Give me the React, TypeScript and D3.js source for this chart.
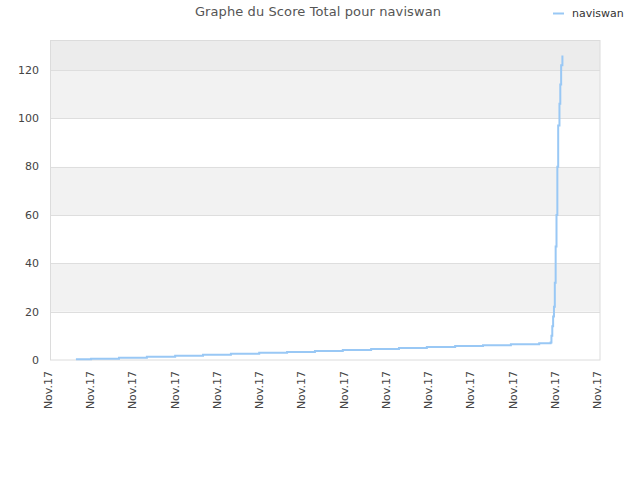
import React, { useRef, useEffect } from 'react';
import * as d3 from 'd3';

// x positions (arbitrary time units, 10 per tick) and total score
const times = [
  5.9, 9.5, 16.1, 22.7, 29.4, 36.0, 42.6, 49.3, 55.9, 62.5, 69.1, 75.8, 82.4, 89.0, 95.7,
  102.3, 108.9, 115.6, 118.3, 118.5, 118.7, 118.9, 119.1, 119.3, 119.5, 119.7, 119.9,
  120.1, 120.4, 120.6, 120.8, 121.1,
];
const scores = [
  0.3, 0.55, 0.95, 1.35, 1.75, 2.15, 2.55, 2.95, 3.35, 3.75, 4.15, 4.55, 4.95, 5.35, 5.75,
  6.15, 6.55, 6.95, 7.2, 10, 14, 18, 22, 32, 47, 60, 80, 97, 106, 114, 122, 126,
];
const xTickLabels = [
  'Nov.17', 'Nov.17', 'Nov.17', 'Nov.17', 'Nov.17', 'Nov.17', 'Nov.17',
  'Nov.17', 'Nov.17', 'Nov.17', 'Nov.17', 'Nov.17', 'Nov.17', 'Nov.17',
];
const yTicks = [0, 20, 40, 60, 80, 100, 120];
const seriesName = 'naviswan';
const title = 'Graphe du Score Total pour naviswan';

const width = 640;
const height = 480;

const App: React.FC = () => {
  const svgRef = useRef<SVGSVGElement>(null);

  useEffect(() => {
    if (!svgRef.current) return;
    const svg = d3.select(svgRef.current);
    svg.selectAll('*').remove();

    const margin = { top: 40, right: 40, bottom: 120, left: 51 };
    const innerWidth = width - margin.left - margin.right;
    const innerHeight = height - margin.top - margin.bottom;
    const font = 'DejaVu Sans, Verdana, sans-serif';

    const x = d3
      .scaleLinear()
      .domain([0, (xTickLabels.length - 1) * 10])
      .range([0, innerWidth]);
    const y = d3.scaleLinear().domain([0, 132.4]).range([innerHeight, 0]);

    const g = svg
      .append('g')
      .attr('transform', `translate(${margin.left},${margin.top})`);

    // Alternating background bands
    const bands = [...yTicks, 132.4];
    for (let i = 0; i < bands.length - 1; i++) {
      let fill = i % 2 === 1 ? '#f2f2f2' : '#ffffff';
      if (i === bands.length - 2) fill = '#ececec';
      g.append('rect')
        .attr('x', 0)
        .attr('y', y(bands[i + 1]))
        .attr('width', innerWidth)
        .attr('height', y(bands[i]) - y(bands[i + 1]))
        .attr('fill', fill);
    }

    // Grid lines
    g.selectAll('.grid')
      .data(yTicks.slice(1))
      .enter()
      .append('line')
      .attr('x1', 0)
      .attr('x2', innerWidth)
      .attr('y1', (d) => Math.round(y(d)) + 0.5)
      .attr('y2', (d) => Math.round(y(d)) + 0.5)
      .attr('stroke', '#dedede')
      .attr('stroke-width', 1);

    // Frame
    g.append('rect')
      .attr('x', -0.5)
      .attr('y', 0.5)
      .attr('width', innerWidth + 0.5)
      .attr('height', innerHeight - 0.5)
      .attr('fill', 'none')
      .attr('stroke', '#dcdcdc')
      .attr('stroke-width', 1);

    // Y axis labels
    g.selectAll('.ylab')
      .data(yTicks)
      .enter()
      .append('text')
      .attr('x', -12)
      .attr('y', (d) => y(d))
      .attr('dy', '0.35em')
      .attr('text-anchor', 'end')
      .attr('font-family', font)
      .attr('font-size', '11px')
      .attr('fill', '#444')
      .text((d) => d);

    // X axis labels (rotated)
    g.selectAll('.xlab')
      .data(xTickLabels)
      .enter()
      .append('text')
      .attr('transform', (_d, i) => `translate(${x(i * 10) + 1},${innerHeight + 11}) rotate(-90)`)
      .attr('text-anchor', 'end')
      .attr('font-family', font)
      .attr('font-size', '11px')
      .attr('fill', '#444')
      .text((d) => d);

    // Score line
    const line = d3
      .line<number>()
      .x((_d, i) => x(times[i]))
      .y((d) => y(d))
      .curve(d3.curveStepAfter);

    g.append('path')
      .datum(scores)
      .attr('d', line)
      .attr('fill', 'none')
      .attr('stroke', '#99c8f5')
      .attr('stroke-width', 2);

    // Title
    svg
      .append('text')
      .attr('x', 318)
      .attr('y', 16)
      .attr('text-anchor', 'middle')
      .attr('font-family', font)
      .attr('font-size', '13px')
      .attr('letter-spacing', '0.1px')
      .attr('fill', '#555')
      .text(title);

    // Legend
    svg
      .append('line')
      .attr('x1', 553)
      .attr('x2', 564)
      .attr('y1', 13.5)
      .attr('y2', 13.5)
      .attr('stroke', '#99c8f5')
      .attr('stroke-width', 2);
    svg
      .append('text')
      .attr('x', 572)
      .attr('y', 17)
      .attr('font-family', font)
      .attr('font-size', '11px')
      .attr('fill', '#333')
      .text(seriesName);
  }, []);

  return (
    <svg
      ref={svgRef}
      width={width}
      height={height}
      style={{ position: 'absolute', left: 0, top: 0 }}
    />
  );
};

export default App;
